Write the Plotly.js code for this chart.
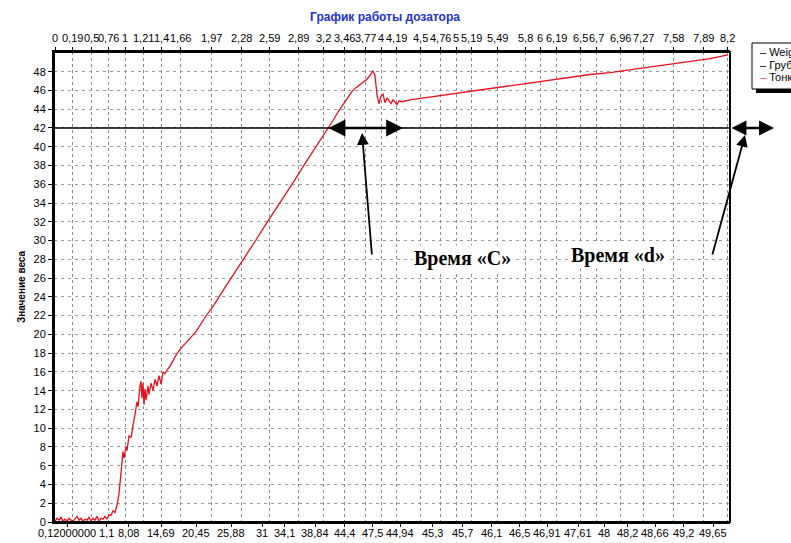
<!DOCTYPE html>
<html>
<head>
<meta charset="utf-8">
<script src="https://cdn.plot.ly/plotly-3.0.1.min.js"></script>
<style>html,body{margin:0;padding:0;background:#fff;overflow:hidden}#chart{width:791px;height:543px}</style>
</head>
<body>
<div id="chart"></div>
<script>
// sample number along the record (0..676) and measured weight
const sample = [1,3,5,7,9,11,13,15,17,19,21,23,25,27,29,31,33,35,37,39,41,43,45,47,49,51,53,55,57,59,61,63,65,67,69,70,72,73,75,77,79,81,83,84,86,87,88,89,90,91,92,94,95,97,99,101,103,105,107,109,111,113,116,119,122,126,131,136,142,151,161,171,181,191,201,211,221,231,241,251,261,268,274,279,284,289,294,298,302,306,310,313,316,318,319,321,323,325,327,329,331,333,335,337,339,341,343,345,348,356,376,396,416,436,456,476,496,516,536,556,576,596,616,636,656,674];
const weight = [0.1,0.4,0.2,0.5,0.1,0.3,0.1,0.4,0.2,0.1,0.3,0.6,0.2,0.4,0.1,0.3,0.2,0.5,0.1,0.4,0.2,0.6,0.1,0.4,0.3,0.6,0.3,0.8,0.7,1.2,1.0,1.8,3.0,5.5,7.5,6.8,8.0,7.6,9.2,9.0,10.5,11.5,12.8,12.3,14.5,15.0,13.2,14.8,12.5,14.2,13.0,14.5,13.6,14.8,14.0,15.2,14.5,15.6,14.7,16.0,15.8,16.2,16.6,17.2,17.8,18.4,19.0,19.6,20.3,21.8,23.3,25.0,26.6,28.3,29.9,31.6,33.2,34.9,36.5,38.2,39.8,41.0,42.0,42.8,43.7,44.5,45.3,45.9,46.3,46.6,46.9,47.2,47.6,48.0,48.1,47.6,45.5,44.6,45.4,45.6,44.7,45.2,44.9,44.6,45.0,44.7,44.5,44.9,44.8,45.0,45.3,45.6,45.9,46.2,46.5,46.8,47.1,47.4,47.7,47.9,48.2,48.5,48.8,49.1,49.4,49.8];

// top axis: time labels
const topLabels = ["0","0,19","0,5","0,76","1","1,21","1,4","1,66","1,97","2,28","2,59","2,89","3,2","3,46","3,77","4","4,19","4,5","4,76","5","5,19","5,49","5,8","6","6,19","6,5","6,7","6,96","7,27","7,58","7,89","8,2"];
const topPos = [1,18,37,54,71,89,107,126,157,187,215,244,269,290,311,327,342,366,386,402,417,443,471,486,502,526,542,566,589,619,649,673];

// bottom axis: weight labels
const botLabels = ["0,12000000","1,1","8,08","14,69","20,45","25,88","31","34,1","38,84","44,4","47,5","44,94","45,3","45,7","46,1","46,5","46,91","47,61","48","48,2","48,66","49,2","49,65"];
const botPos = [13,52,74,107,142,177,208,230,261,290,318,346,378,408,437,465,493,524,550,573,601,629,659];

// y ticks
const yTicks = [0,2,4,6,8,10,12,14,16,18,20,22,24,26,28,30,32,34,36,38,40,42,44,46,48];

const legendNames = ["Weight","Грубая","Тонкая"];
const legendColors = ["#000000","#000000","#ff3c8c"];

const W = 676, PT = 52, PB = 522, YMAX = 50.1;
const pxY = py => (PB - py) / (PB - PT);
const pxX = px => (px - 54) / W;
const pxV = py => (PB - py) / (PB - PT) * YMAX;

const traces = [
  {x: sample, y: weight, type: 'scatter', mode: 'lines', name: legendNames[0],
   line: {color: '#e8101c', width: 1.3}, hoverinfo: 'skip'},
  {x: [topPos[0]], y: [0], xaxis: 'x2', type: 'scatter', mode: 'markers',
   marker: {opacity: 0}, showlegend: false, hoverinfo: 'skip'}
];

const tickFont = {family: 'Liberation Sans, Arial, sans-serif', size: 11, color: '#000'};
const serif = {family: 'Liberation Serif, Times New Roman, serif', size: 20, color: '#000'};

const annotations = [
  // double arrow at the 42 level (time C)
  {xref: 'x', yref: 'y', axref: 'x', ayref: 'y', x: 349, y: 42, ax: 273, ay: 42,
   text: '', showarrow: true, arrowside: 'end+start', arrowhead: 2, arrowsize: 1.3, arrowwidth: 2.6, arrowcolor: '#000'},
  // double arrow right of the frame (time d)
  {xref: 'paper', yref: 'y', axref: 'pixel', ayref: 'pixel', x: pxX(774), y: 42, ax: -44, ay: 0,
   text: '', showarrow: true, arrowside: 'end+start', arrowhead: 2, arrowsize: 1.15, arrowwidth: 2.6, arrowcolor: '#000'},
  // pointer arrows
  {xref: 'x', yref: 'y', axref: 'pixel', ayref: 'pixel', x: 308, y: pxV(133), ax: 10, ay: 123,
   text: '', showarrow: true, arrowhead: 2, arrowsize: 1.3, arrowwidth: 1.8, arrowcolor: '#000'},
  {xref: 'paper', yref: 'y', axref: 'pixel', ayref: 'pixel', x: pxX(745), y: pxV(135), ax: -33, ay: 121,
   text: '', showarrow: true, arrowhead: 2, arrowsize: 1.3, arrowwidth: 1.8, arrowcolor: '#000'},
  // labels
  {xref: 'paper', yref: 'paper', x: pxX(462), y: pxY(258), xanchor: 'center', yanchor: 'middle',
   text: '<b>Время «C»</b>', showarrow: false, font: serif, bgcolor: '#fff'},
  {xref: 'paper', yref: 'paper', x: pxX(618), y: pxY(255), xanchor: 'center', yanchor: 'middle',
   text: '<b>Время «d»</b>', showarrow: false, font: serif, bgcolor: '#fff'}
];

// axis labels as text so that none are dropped
topLabels.forEach((t, i) => annotations.push({xref: 'x', yref: 'paper', x: topPos[i], y: 1, xanchor: 'center',
  yanchor: 'bottom', yshift: 6, text: t, showarrow: false, font: tickFont}));
botLabels.forEach((t, i) => annotations.push({xref: 'x', yref: 'paper', x: botPos[i], y: 0, xanchor: 'center',
  yanchor: 'top', yshift: -3, text: t, showarrow: false, font: tickFont}));

const legY = [52, 65, 77];
legendNames.forEach((n, i) => {
  annotations.push({xref: 'paper', yref: 'paper', x: pxX(758), y: pxY(legY[i]), xanchor: 'left', yanchor: 'middle',
    text: '<span style="color:' + legendColors[i] + '">–</span> ' + n + ' помол',
    showarrow: false, font: {family: 'Liberation Sans, Arial, sans-serif', size: 11, color: '#000'}});
});

const shapes = [
  {type: 'line', xref: 'x', yref: 'y', x0: 0, x1: W, y0: 42, y1: 42, line: {color: '#000', width: 1.5}},
  {type: 'rect', xref: 'paper', yref: 'paper', x0: 0, x1: 1, y0: 0, y1: 1, line: {color: '#000', width: 2}},
  {type: 'rect', xref: 'paper', yref: 'paper', x0: pxX(756), x1: pxX(810), y0: pxY(93), y1: pxY(47),
   fillcolor: '#000', line: {width: 0}},
  {type: 'rect', xref: 'paper', yref: 'paper', x0: pxX(752), x1: pxX(806), y0: pxY(89), y1: pxY(43),
   fillcolor: '#fff', line: {color: '#000', width: 1}}
];

const layout = {
  width: 791, height: 543,
  margin: {l: 54, r: 61, t: 52, b: 21},
  paper_bgcolor: '#fff', plot_bgcolor: '#fff',
  showlegend: false,
  title: {text: '<b>График работы дозатора</b>', x: 385 / 791, xanchor: 'center', xref: 'container',
          y: 1 - 17 / 543, yanchor: 'middle', yref: 'container',
          font: {family: 'Liberation Sans, Arial, sans-serif', size: 12, color: '#2233cc'}},
  xaxis: {range: [0, W], tickmode: 'array', tickvals: botPos, showticklabels: false,
          ticks: 'outside', ticklen: 3, tickcolor: '#000', showgrid: false, zeroline: false,
          showline: true, linecolor: '#000', linewidth: 2, fixedrange: true},
  xaxis2: {range: [0, W], overlaying: 'x', side: 'top', tickmode: 'array', tickvals: topPos, showticklabels: false,
           ticks: 'outside', ticklen: 3, tickcolor: '#000', showgrid: true,
           gridcolor: '#8a8a8a', griddash: 'dot', gridwidth: 1, zeroline: false,
           showline: true, linecolor: '#000', linewidth: 2, fixedrange: true},
  yaxis: {range: [0, YMAX], tickmode: 'array', tickvals: yTicks, ticks: 'outside', ticklen: 4, tickcolor: '#000',
          showgrid: true, gridcolor: '#9a9a9a', griddash: '3px,4px', gridwidth: 1, zeroline: false,
          showline: true, linecolor: '#000', linewidth: 2, tickfont: tickFont, fixedrange: true,
          title: {text: '<b>Значение веса</b>', standoff: 6,
                  font: {family: 'Liberation Sans, Arial, sans-serif', size: 10, color: '#000'}}},
  annotations: annotations,
  shapes: shapes
};

Plotly.newPlot('chart', traces, layout, {staticPlot: true, displayModeBar: false});
</script>
</body>
</html>
